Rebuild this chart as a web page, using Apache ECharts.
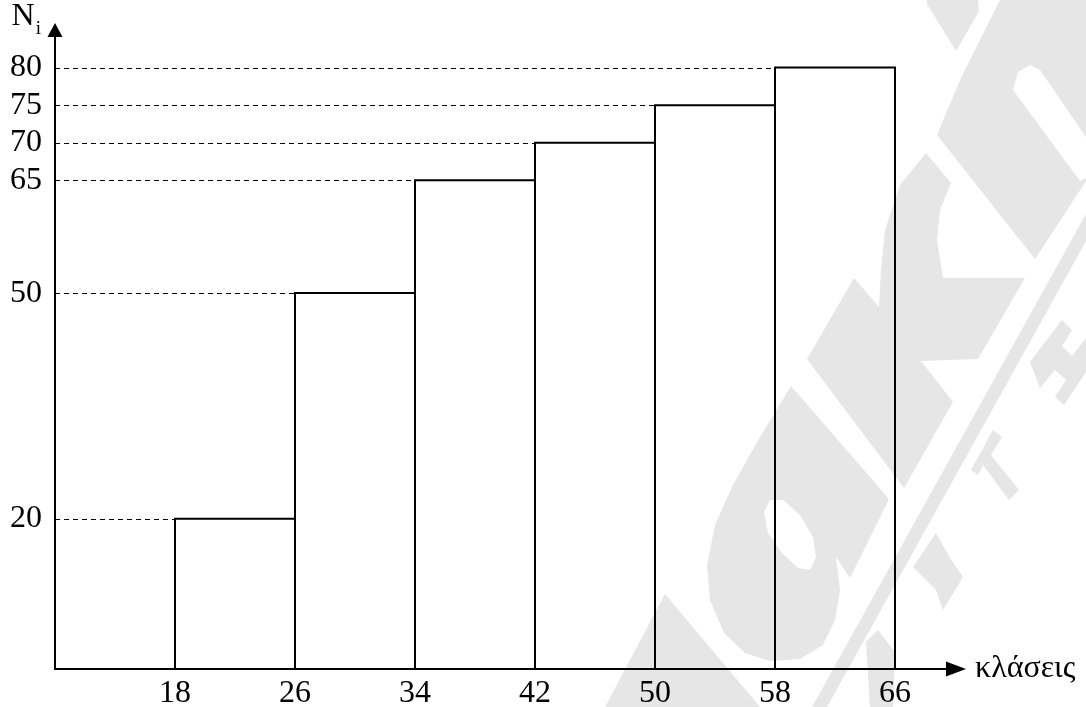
<!DOCTYPE html>
<html>
<head>
<meta charset="utf-8">
<style>
  html, body { margin: 0; padding: 0; background: #fff; }
  #chart { width: 1086px; height: 707px; }
</style>
<script src="https://cdn.jsdelivr.net/npm/echarts@6/dist/echarts.min.js"></script>
</head>
<body>
<div id="chart"></div>
<script>
// ---- data ----
const classEdges = [18, 26, 34, 42, 50, 58, 66];          // class boundaries
const cumFreq = [20, 50, 65, 70, 75, 80];                 // cumulative frequency N_i per class
const xTickLabels = [18, 26, 34, 42, 50, 58, 66];
const yTickLabels = [20, 50, 65, 70, 75, 80];
const xMin = 10, xMax = 70, yMin = 0, yMax = 85;

const barData = cumFreq.map((v, i) => [classEdges[i], classEdges[i + 1], v]);

const FONT = "'Liberation Serif', 'Times New Roman', serif";
const WM = '#e6e6e6';

// watermark (decorative background logo, approximated)
function poly(points, fill) {
  return { type: 'polygon', silent: true, z: -10, shape: { points: points }, style: { fill: fill || WM } };
}
const watermark = [
  poly([[927,0],[978,0],[979,11],[956,51],[927,4]]),
  poly([[937,135],[961,78],[1000,0],[1086,0],[1086,181],[1035,259]]),
  poly([[1013,90],[1018,72],[1030,65],[1040,70],[1086,137],[1086,178],[1080,181]], '#fff'),
  poly([[926,153],[951,183],[940,210],[937,240],[943,278],[1025,278],[978,359],[921,361],[953,402],[904,488],[807,359],[854,278],[879,307],[881,270],[885,230],[900,185]]),
  poly([[791,386],[889,499],[850,578],[836,557],[840,590],[835,620],[823,645],[800,659],[770,661],[745,653],[724,633],[710,600],[707,565],[715,525],[733,485],[760,437]]),
  poly([[764,512],[770,500],[783,500],[800,515],[813,537],[816,557],[810,570],[798,568],[782,553],[768,533]], '#fff'),
  poly([[1086,214],[1086,241],[827,707],[812,707]]),
  poly([[665,594],[760,707],[605,707]]),
  poly([[866,642],[878,630],[895,652],[893,707],[870,707]]),
  poly([[913,567],[936,533],[950,558],[963,577],[943,610],[936,590]]),
  poly([[971,470],[993,430],[1002,437],[991,455],[1019,490],[1009,500],[983,465],[978,475]]),
  poly([[1030,362],[1062,320],[1072,330],[1062,346],[1072,356],[1086,338],[1086,372],[1064,405],[1055,397],[1066,380],[1055,370],[1040,388]])
];

const chart = echarts.init(document.getElementById('chart'), null, { renderer: 'canvas' });

chart.setOption({
  backgroundColor: '#fff',
  animation: false,
  graphic: watermark,
  grid: { left: 55, right: 131, top: 30, bottom: 38, containLabel: false, outerBoundsMode: 'none' },
  xAxis: {
    type: 'value',
    min: xMin,
    max: xMax,
    name: 'κλάσεις',
    nameLocation: 'end',
    nameGap: 20,
    nameTextStyle: { fontFamily: FONT, fontSize: 32, color: '#000', verticalAlign: 'middle', align: 'left' },
    axisLine: {
      show: true, onZero: false,
      symbol: ['none', 'triangle'], symbolSize: [15, 20], symbolOffset: [0, 1],
      lineStyle: { color: '#000', width: 2 }
    },
    axisTick: { show: false },
    splitLine: { show: false },
    axisLabel: {
      customValues: xTickLabels,
      color: '#000', fontFamily: FONT, fontSize: 32, margin: 9
    }
  },
  yAxis: {
    type: 'value',
    min: yMin,
    max: yMax,
    name: '{n|N}{i|i}',
    nameLocation: 'end',
    nameGap: -9,
    nameTextStyle: {
      align: 'right', verticalAlign: 'bottom', padding: [0, 14, 0, 0],
      rich: {
        n: { fontFamily: FONT, fontSize: 32, color: '#000', lineHeight: 38, verticalAlign: 'top' },
        i: { fontFamily: FONT, fontSize: 19, color: '#000', verticalAlign: 'bottom', padding: [0, 0, 0, 1] }
      }
    },
    axisLine: {
      show: true, onZero: false,
      symbol: ['none', 'triangle'], symbolSize: [15, 14],
      lineStyle: { color: '#000', width: 2 }
    },
    axisTick: { show: false },
    splitLine: { show: false },
    axisLabel: {
      customValues: yTickLabels,
      color: '#000', fontFamily: FONT, fontSize: 32, margin: 13
    }
  },
  series: [{
    type: 'custom',
    coordinateSystem: 'cartesian2d',
    data: barData,
    encode: { x: [0, 1], y: 2 },
    renderItem: function (params, api) {
      const start = api.value(0), end = api.value(1), v = api.value(2);
      const topLeft = api.coord([start, v]);
      const botRight = api.coord([end, yMin]);
      const axisPt = api.coord([xMin, v]);
      const yy = Math.round(topLeft[1]) + 0.5;
      return {
        type: 'group',
        children: [
          {
            type: 'line',
            shape: { x1: axisPt[0], y1: yy, x2: topLeft[0], y2: yy },
            style: { stroke: '#000', lineWidth: 1, lineDash: [5, 4] }
          },
          {
            type: 'rect',
            shape: { x: topLeft[0], y: topLeft[1], width: botRight[0] - topLeft[0], height: botRight[1] - topLeft[1] },
            style: { fill: 'none', stroke: '#000', lineWidth: 2 }
          }
        ]
      };
    }
  }]
});
</script>
</body>
</html>
